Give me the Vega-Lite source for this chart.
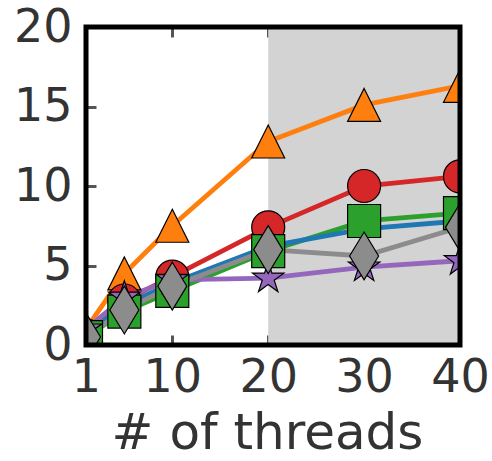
{
  "$schema": "https://vega.github.io/schema/vega-lite/v6.json",
  "autosize": "none",
  "width": 374,
  "height": 318,
  "padding": {"left": 86, "top": 27, "right": 32, "bottom": 116},
  "background": "white",
  "config": {
    "view": {"stroke": null},
    "font": "DejaVu Sans",
    "axis": {
      "domain": false,
      "grid": false,
      "tickSize": -10,
      "tickWidth": 3,
      "tickColor": "#555555",
      "labelFont": "DejaVu Sans",
      "titleFont": "DejaVu Sans",
      "labelFontSize": 46,
      "titleFontSize": 50,
      "labelColor": "#333333",
      "titleColor": "#333333",
      "titleFontWeight": "normal"
    }
  },
  "datasets": {
    "speedup": [
      {"t": 1, "v": 1.0, "s": "orange"},
      {"t": 5, "v": 4.5, "s": "orange"},
      {"t": 10, "v": 7.5, "s": "orange"},
      {"t": 20, "v": 12.8, "s": "orange"},
      {"t": 30, "v": 15.1, "s": "orange"},
      {"t": 40, "v": 16.3, "s": "orange"},
      {"t": 1, "v": 0.6, "s": "red"},
      {"t": 5, "v": 2.8, "s": "red"},
      {"t": 10, "v": 4.3, "s": "red"},
      {"t": 20, "v": 7.4, "s": "red"},
      {"t": 30, "v": 10.0, "s": "red"},
      {"t": 40, "v": 10.6, "s": "red"},
      {"t": 1, "v": 0.5, "s": "green"},
      {"t": 5, "v": 2.1, "s": "green"},
      {"t": 10, "v": 3.4, "s": "green"},
      {"t": 20, "v": 5.9, "s": "green"},
      {"t": 30, "v": 7.8, "s": "green"},
      {"t": 40, "v": 8.3, "s": "green"},
      {"t": 1, "v": 0.7, "s": "blue"},
      {"t": 5, "v": 2.5, "s": "blue"},
      {"t": 10, "v": 3.9, "s": "blue"},
      {"t": 20, "v": 6.2, "s": "blue"},
      {"t": 30, "v": 7.3, "s": "blue"},
      {"t": 40, "v": 7.8, "s": "blue"},
      {"t": 1, "v": 1.0, "s": "purple"},
      {"t": 5, "v": 3.0, "s": "purple"},
      {"t": 10, "v": 4.1, "s": "purple"},
      {"t": 20, "v": 4.2, "s": "purple"},
      {"t": 30, "v": 4.9, "s": "purple"},
      {"t": 40, "v": 5.3, "s": "purple"},
      {"t": 1, "v": 0.5, "s": "gray"},
      {"t": 5, "v": 2.2, "s": "gray"},
      {"t": 10, "v": 3.7, "s": "gray"},
      {"t": 20, "v": 6.0, "s": "gray"},
      {"t": 30, "v": 5.6, "s": "gray"},
      {"t": 40, "v": 7.4, "s": "gray"}
    ],
    "band": [{"a": 20, "b": 40}],
    "frame": [{"f": 1}]
  },
  "layer": [
    {
      "data": {"name": "band"},
      "mark": {"type": "rect", "color": "#d3d3d3"},
      "encoding": {
        "x": {"field": "a", "type": "quantitative", "axis": null},
        "x2": {"field": "b"}
      }
    },
    {
      "data": {"name": "speedup"},
      "mark": {"type": "line", "strokeWidth": 4.8, "clip": true},
      "encoding": {
        "x": {
          "field": "t", "type": "quantitative",
          "scale": {"domain": [1, 40], "nice": false, "zero": false},
          "axis": {"orient": "bottom", "values": [1, 10, 20, 30, 40], "title": "# of threads", "labelPadding": 20, "titlePadding": 8, "titleX": 181, "labelFlush": false}
        },
        "y": {
          "field": "v", "type": "quantitative",
          "scale": {"domain": [0, 20], "nice": false},
          "axis": {"orient": "left", "values": [0, 5, 10, 15, 20], "title": null, "labelPadding": 24, "labelFlush": false}
        },
        "color": {
          "field": "s", "type": "nominal", "legend": null,
          "scale": {
            "domain": ["orange", "red", "green", "blue", "purple", "gray"],
            "range": ["#ff7f0e", "#d62728", "#2ca02c", "#1f77b4", "#9467bd", "#8c8c8c"]
          }
        }
      }
    },
    {
      "data": {"name": "speedup"},
      "transform": [{"filter": "datum.s != 'blue'"}],
      "mark": {"type": "point", "filled": true, "size": 1089, "stroke": "black", "strokeWidth": 1.2, "opacity": 1, "clip": true},
      "encoding": {
        "x": {
          "field": "t", "type": "quantitative",
          "axis": {"orient": "top", "values": [1, 10, 20, 30, 40], "labels": false, "title": null}
        },
        "y": {
          "field": "v", "type": "quantitative",
          "axis": {"orient": "right", "values": [0, 5, 10, 15, 20], "labels": false, "title": null}
        },
        "color": {"field": "s", "type": "nominal", "legend": null},
        "shape": {
          "field": "s", "type": "nominal", "legend": null,
          "scale": {
            "domain": ["orange", "red", "green", "purple", "gray"],
            "range": ["M0,-1L1,1L-1,1Z", "circle", "square", "M0,-1L0.225,-0.309L0.951,-0.309L0.363,0.118L0.588,0.809L0,0.382L-0.588,0.809L-0.363,0.118L-0.951,-0.309L-0.225,-0.309Z", "M0,-1.45L0.88,0L0,1.45L-0.88,0Z"]
          }
        }
      }
    },
    {
      "data": {"name": "frame"},
      "mark": {"type": "rect", "fill": null, "stroke": "black", "strokeWidth": 5},
      "encoding": {}
    }
  ],
  "resolve": {"axis": {"x": "independent", "y": "independent"}}
}
